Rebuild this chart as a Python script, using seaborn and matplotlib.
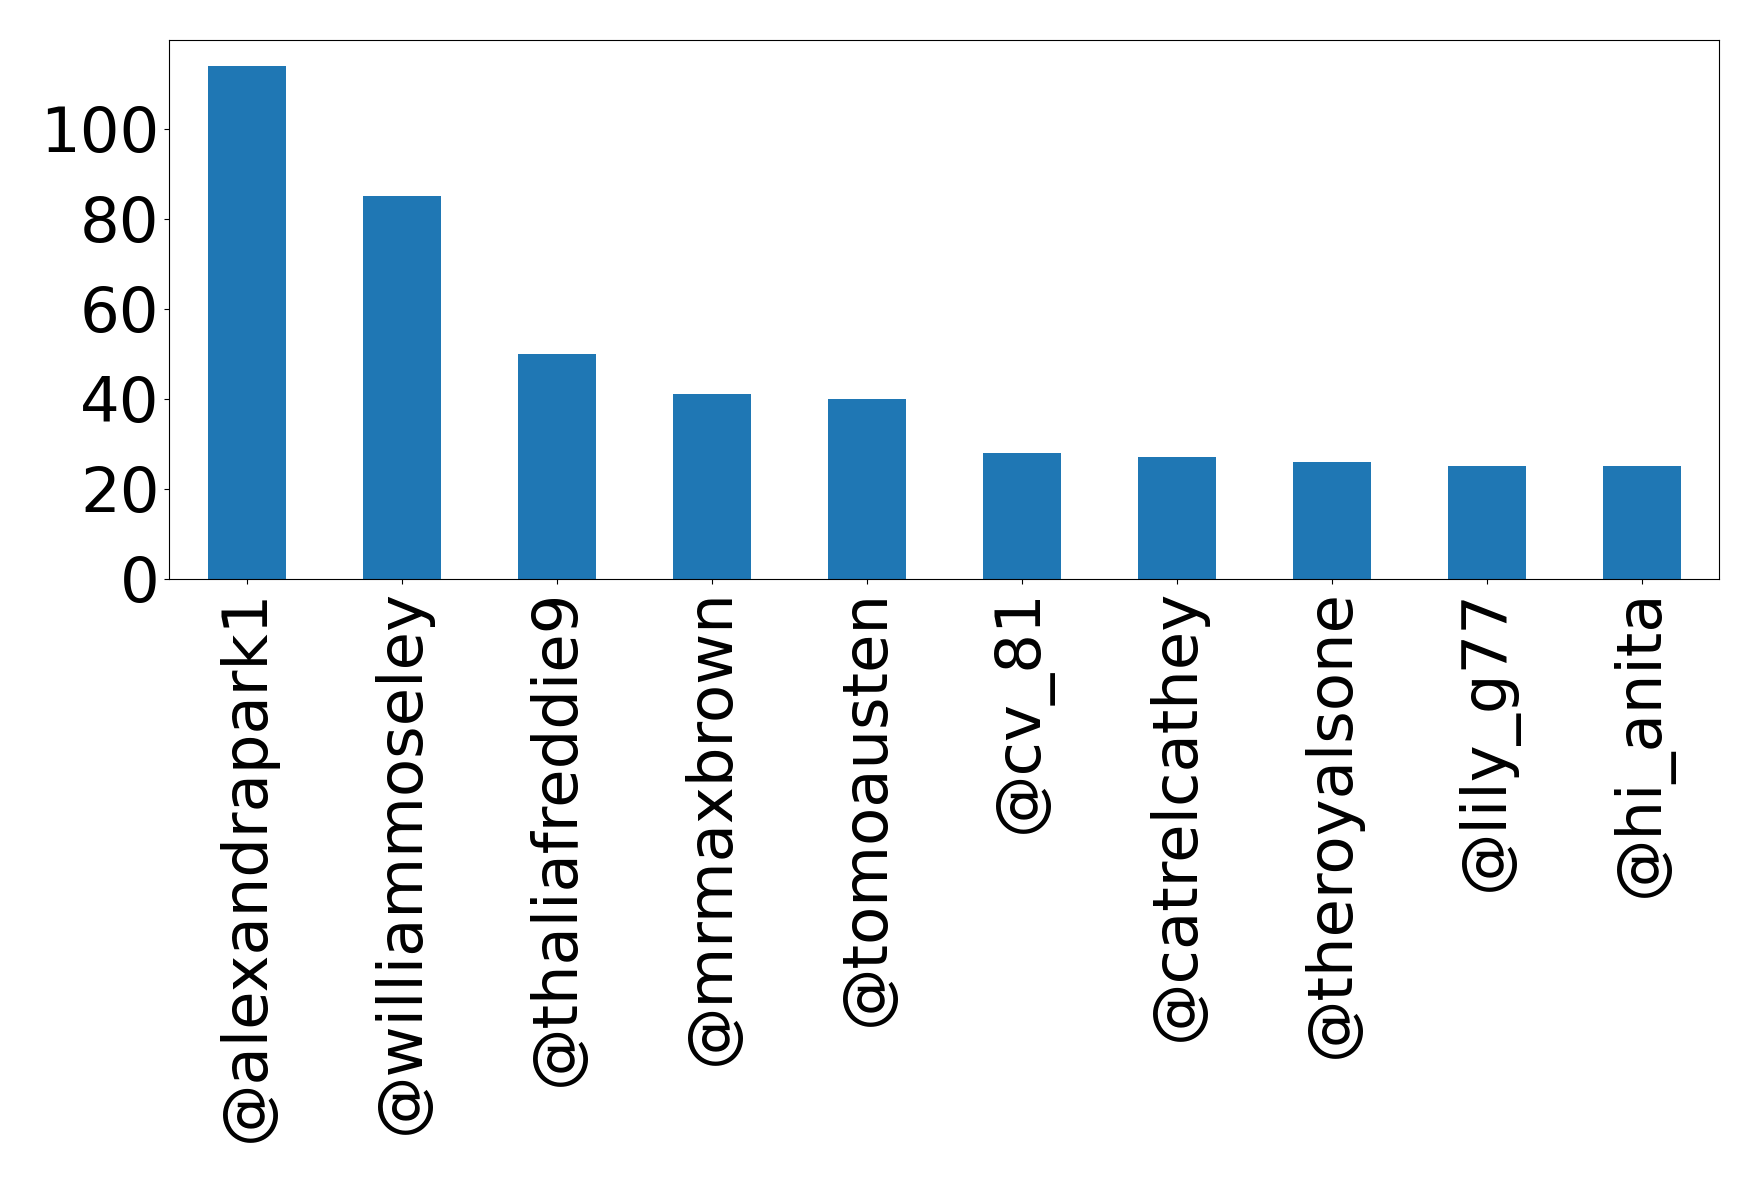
import pandas as pd
import numpy as np

import matplotlib
matplotlib.use('Agg')
import matplotlib.pyplot as plt
from matplotlib.ticker import MultipleLocator
import seaborn as sns


users = ['@alexandrapark1', '@williammoseley', '@thaliafreddie9', '@mrmaxbrown',
         '@tomoausten', '@cv_81', '@catrelcathey', '@theroyalsone', '@lily_g77',
         '@hi_anita']
counts = [114, 85, 50, 41, 40, 28, 27, 26, 25, 25]

df = pd.DataFrame({'user': users, 'count': counts})

fig, ax = plt.subplots(figsize=(17.58, 11.82), dpi=100)
fig.subplots_adjust(left=0.0963, right=0.978, top=0.9659, bottom=0.5102)

sns.barplot(data=df, x='user', y='count', color='#1f77b4', saturation=1,
            width=0.5, ax=ax)

ax.set_xlim(-0.5, len(users) - 0.5)
ax.set_ylim(0, max(counts) * 1.05)
ax.yaxis.set_major_locator(MultipleLocator(20))
ax.set_xlabel('')
ax.set_ylabel('')
ax.tick_params(axis='both', labelsize=45)
plt.setp(ax.get_xticklabels(), rotation=90)

fig.savefig('out.png', dpi=100)
